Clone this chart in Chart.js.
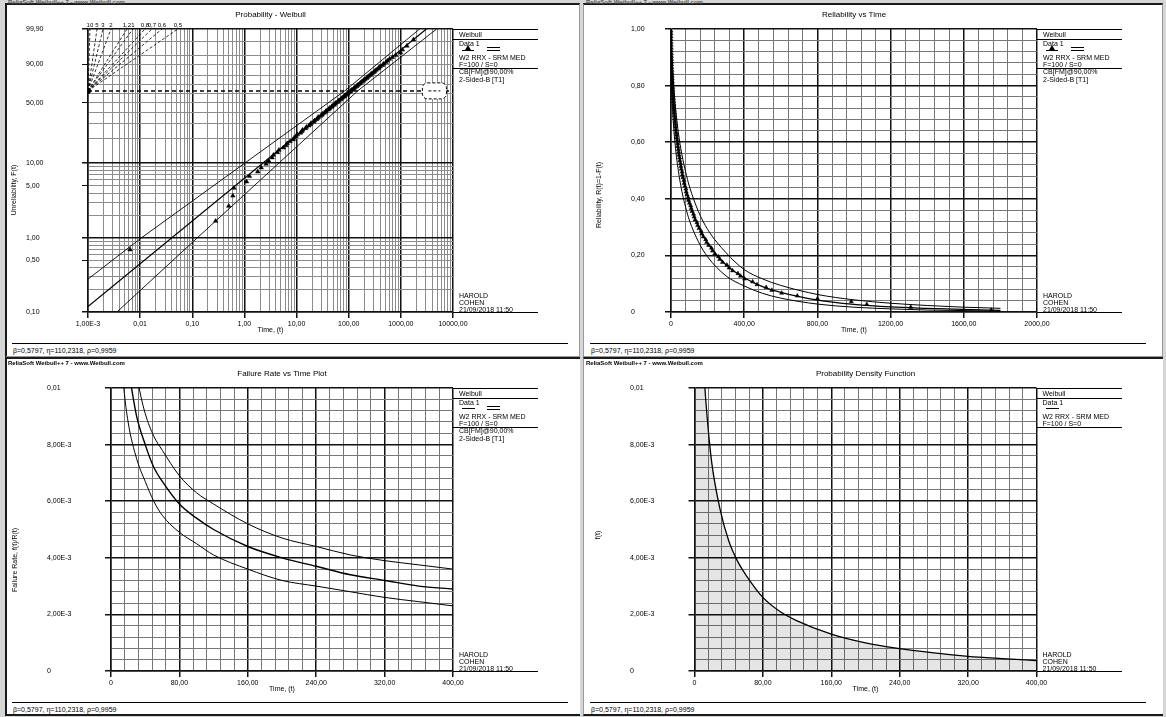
<!DOCTYPE html>
<html>
<head>
<meta charset="utf-8">
<title>Weibull plots</title>
<script src="https://cdn.jsdelivr.net/npm/chart.js@4.4.1/dist/chart.umd.min.js"></script>
<style>
  body { margin: 0; width: 1166px; height: 717px; position: relative; overflow: hidden; background: #d6d6d6; font-family: "Liberation Sans", Arial, sans-serif; color: #000; }
  .frame { position: absolute; background: #fff; box-sizing: border-box; border-top: 2px solid #1a1a1a; }
  canvas { position: absolute; }
  .txt { position: absolute; font-size: 7px; line-height: 7px; white-space: nowrap; color: #000; }
  .rule { position: absolute; height: 0; border-top: 1px solid #000; }
  .ytitle { position: absolute; font-size: 7px; line-height: 7px; white-space: nowrap; transform: translate(-50%, -50%) rotate(-90deg); }
  .head { position: absolute; font-size: 6px; line-height: 6px; font-weight: bold; white-space: nowrap; }
</style>
</head>
<body>
<div class="frame" style="left:5px;top:3px;width:575px;height:354px;border-left:2px solid #1a1a1a;border-right:1px solid #999;border-bottom:1px solid #999"></div>
<div class="frame" style="left:583px;top:3px;width:580px;height:354px;border-left:1px solid #999;border-right:1px solid #999;border-bottom:1px solid #999"></div>
<div class="frame" style="left:5px;top:357px;width:575px;height:359px;border-left:2px solid #1a1a1a;border-bottom:2px solid #1a1a1a"></div>
<div class="frame" style="left:583px;top:357px;width:580px;height:359px;border-left:1px solid #999;border-bottom:2px solid #1a1a1a"></div>

<canvas id="probChart" width="540" height="336" style="left:8px;top:5px"></canvas>
<canvas id="relChart" width="540" height="336" style="left:587px;top:5px"></canvas>
<canvas id="rateChart" width="540" height="340" style="left:8px;top:358px"></canvas>
<canvas id="pdfChart" width="540" height="340" style="left:587px;top:358px"></canvas>

<script>
// ---- probability plot (Weibull paper) ----
var probTickTimes = [0.001, 0.01, 0.1, 1, 10, 100, 1000, 10000];
var probTickTimeLabels = ['1,00E-3', '0,01', '0,10', '1,00', '10,00', '100,00', '1000,00', '10000,00'];
var probTickF = [0.1, 0.5, 1, 5, 10, 50, 90, 99.9];
var probTickFLabels = ['0,10', '0,50', '1,00', '5,00', '10,00', '50,00', '90,00', '99,90'];
var probGridF = [0.1, 0.2, 0.3, 0.4, 0.5, 0.6, 0.7, 0.8, 0.9, 1, 2, 3, 4, 5, 6, 7, 8, 9,
                 10, 20, 30, 40, 50, 60, 70, 80, 90, 95, 99, 99.9];
var probDarkF = [0.1, 1, 10, 99.9];

// failure times and median-rank unreliability (%)
var failTimes = [0.0064, 0.28, 0.50, 0.60, 0.63, 1.1, 1.25, 1.8, 2.1, 2.6,
                 2.9, 3.4, 3.6, 4.3, 4.6, 5.6, 6.3, 6.6, 7.5, 8.6,
                 9.0, 9.8, 10.4, 11.9, 12.6, 13.1, 14.9, 15.5, 17.2, 18.4,
                 19.0, 21.3, 22.0, 24.2, 25.3, 26.1, 28.8, 30.5, 31.4, 34.0,
                 36.2, 37.0, 40.5, 42.0, 43.6, 47.2, 48.5, 52.4, 53.8, 56.1,
                 60.7, 62.2, 65.0, 70.3, 72.1, 75.8, 81.5, 83.0, 87.4, 93.6,
                 95.8, 100.9, 107.2, 110.4, 115.0, 123.1, 126.5, 132.0, 141.8, 146.0,
                 153.2, 164.5, 168.3, 177.0, 189.6, 195.0, 205.8, 221.4, 227.0, 239.5,
                 258.7, 266.0, 281.2, 305.4, 318.0, 336.5, 366.0, 380.2, 402, 446,
                 470, 520, 551, 605, 690, 800, 985, 1070, 1310, 1750];
var failUnrel = [0.7, 1.7, 2.7, 3.7, 4.7, 5.7, 6.7, 7.7, 8.7, 9.7, 10.7, 11.7,
                 12.6, 13.6, 14.6, 15.6, 16.6, 17.6, 18.6, 19.6, 20.6, 21.6, 22.6, 23.6, 24.6,
                 25.6, 26.6, 27.6, 28.6, 29.6, 30.6, 31.6, 32.6, 33.6, 34.6, 35.6, 36.6,
                 37.5, 38.5, 39.5, 40.5, 41.5, 42.5, 43.5, 44.5, 45.5, 46.5, 47.5, 48.5, 49.5,
                 50.5, 51.5, 52.5, 53.5, 54.5, 55.5, 56.5, 57.5, 58.5, 59.5, 60.5, 61.5,
                 62.4, 63.4, 64.4, 65.4, 66.4, 67.4, 68.4, 69.4, 70.4, 71.4, 72.4, 73.4, 74.4,
                 75.4, 76.4, 77.4, 78.4, 79.4, 80.4, 81.4, 82.4, 83.4, 84.4, 85.4, 86.4,
                 87.3, 88.3, 89.3, 90.3, 91.3, 92.3, 93.3, 94.3, 95.3, 96.3, 97.3, 98.3, 99.3];

// fitted line and 90% bounds on the probability paper
var fitTimes = [0.001, 3080];
var fitF = [0.119, 99.9];
var cbUpperTimes = [0.001, 0.0104, 83.8, 2290];
var cbUpperF = [0.279, 1, 63.2, 99.9];
var cbLowerTimes = [0.00359, 0.123, 148.6, 4850];
var cbLowerF = [0.1, 1, 63.2, 99.9];
var etaLevel = 63.2;
var etaBoxTime = 4400;
var betaLabels = ['10', '5', '3', '2', '1,2', '1', '0,8', '0,7', '0,6', '0,5'];
var betaTopTimes = [0.00109, 0.00149, 0.00194, 0.00276, 0.00558, 0.00728, 0.0124, 0.0168, 0.0262, 0.053];

// ---- reliability vs time ----
var relTimes = [0, 1, 5, 10, 20, 40, 60, 80, 100, 150, 200, 300, 400, 500, 600, 800, 1000, 1200, 1400, 1600, 1800];
var relMid   = [1, 0.937, 0.847, 0.780, 0.689, 0.573, 0.495, 0.436, 0.388, 0.302, 0.243, 0.167, 0.121, 0.090, 0.069, 0.042, 0.027, 0.018, 0.013, 0.009, 0.006];
var relUpper = [1, 0.975, 0.905, 0.845, 0.755, 0.635, 0.555, 0.495, 0.445, 0.355, 0.292, 0.210, 0.150, 0.117, 0.094, 0.062, 0.043, 0.031, 0.023, 0.017, 0.013];
var relLower = [1, 0.870, 0.770, 0.700, 0.610, 0.500, 0.425, 0.370, 0.325, 0.248, 0.195, 0.128, 0.092, 0.066, 0.049, 0.028, 0.017, 0.011, 0.007, 0.005, 0.003];
var relTickTimes = [0, 400, 800, 1200, 1600, 2000];
var relTickTimeLabels = ['0', '400,00', '800,00', '1200,00', '1600,00', '2000,00'];
var relTickR = [0, 0.2, 0.4, 0.6, 0.8, 1];
var relTickRLabels = ['0', '0,20', '0,40', '0,60', '0,80', '1,00'];

// ---- failure rate vs time ----
var rateMidTimes = [20, 24, 30, 40, 50, 60, 80, 100, 120, 160, 200, 240, 280, 320, 360, 400];
var rateMid      = [0.0108, 0.0100, 0.0090, 0.0080, 0.0072, 0.0067, 0.0059, 0.0054, 0.0050, 0.0044, 0.0040, 0.0037, 0.0034, 0.0032, 0.0030, 0.0029];
var rateUpTimes  = [30, 33, 40, 50, 60, 80, 100, 120, 160, 200, 240, 280, 320, 360, 400];
var rateUp       = [0.0106, 0.0100, 0.0091, 0.0083, 0.0078, 0.0069, 0.0063, 0.0059, 0.0052, 0.0047, 0.0044, 0.0041, 0.0039, 0.00375, 0.0036];
var rateLowTimes = [14, 15, 20, 30, 40, 50, 60, 80, 100, 120, 160, 200, 240, 280, 320, 360, 400];
var rateLow      = [0.0104, 0.0100, 0.0088, 0.0075, 0.0067, 0.0060, 0.0055, 0.0049, 0.0045, 0.0041, 0.0036, 0.0032, 0.0030, 0.0028, 0.0026, 0.00245, 0.0023];
var rateTickTimes = [0, 80, 160, 240, 320, 400];
var rateTickTimeLabels = ['0', '80,00', '160,00', '240,00', '320,00', '400,00'];
var rateTickVals = [0, 0.002, 0.004, 0.006, 0.008, 0.01];
var rateTickLabels = ['0', '2,00E-3', '4,00E-3', '6,00E-3', '8,00E-3', '0,01'];

// ---- probability density ----
var pdfTimes = [1, 5, 10, 12, 15, 20, 30, 40, 50, 60, 80, 100, 120, 160, 200, 240, 280, 320, 360, 400];
var pdfVals  = [0.0356, 0.0164, 0.0113, 0.0101, 0.0089, 0.0074, 0.0057, 0.0046, 0.0039, 0.0034, 0.0026, 0.0021, 0.00177, 0.0013, 0.00099, 0.00079, 0.00064, 0.00052, 0.00044, 0.00037];

// ---- texts ----
var legendRows = ['Weibull', 'Data 1', 'W2 RRX - SRM MED', 'F=100 / S=0', 'CB[FM]@90,00%', '2-Sided-B [T1]'];
var stampRows = ['HAROLD', 'COHEN', '21/09/2018 11:50'];
var footerText = 'β=0,5797, η=110,2318, ρ=0,9959';
var headerText = 'ReliaSoft Weibull++ 7 - www.Weibull.com';

Chart.defaults.font.family = '"Liberation Sans", Arial, sans-serif';
Chart.defaults.font.size = 7;
Chart.defaults.color = '#000';

// Weibull probability axis: value is unreliability in %, placed on ln(-ln(1-F))
function weib(p) {
    return Math.log(-Math.log(1 - p / 100));
}
class WeibullScale extends Chart.LinearScale {
    determineDataLimits() {
        this.min = this.options.min;
        this.max = this.options.max;
    }
    buildTicks() {
        return [];
    }
    configure() {
        super.configure();
        this._wbStart = weib(this.min);
        this._wbRange = weib(this.max) - this._wbStart;
    }
    getPixelForValue(value) {
        if (value === null || value === undefined) return NaN;
        return this.getPixelForDecimal((weib(value) - this._wbStart) / this._wbRange);
    }
    getValueForPixel(pixel) {
        var w = this._wbStart + this.getDecimalForPixel(pixel) * this._wbRange;
        return 100 * (1 - Math.exp(-Math.exp(w)));
    }
}
WeibullScale.id = 'weibull';
WeibullScale.defaults = {};
Chart.register(WeibullScale);

function steps(max, n) {
    return Array.from({length: n + 1}, function (_, i) { return +(i * max / n).toFixed(6); });
}
function logGrid() {
    var out = [];
    for (var e = -3; e <= 3; e++) {
        for (var k = 1; k <= 9; k++) out.push(parseFloat((k * Math.pow(10, e)).toPrecision(3)));
    }
    out.push(10000);
    return out;
}
function pts(xs, ys) {
    return xs.map(function (x, i) { return {x: x, y: ys[i]}; });
}

function axis(type, min, max, grid, tickVals, tickLabels, dark, minor) {
    return {
        type: type,
        min: min,
        max: max,
        afterBuildTicks: function (s) { s.ticks = grid.map(function (v) { return {value: v}; }); },
        ticks: {
            autoSkip: false,
            maxRotation: 0,
            minRotation: 0,
            padding: 2,
            callback: function (v) {
                var i = tickVals.indexOf(v);
                return i < 0 ? '' : tickLabels[i];
            }
        },
        grid: {
            color: function (c) { return c.tick && dark.indexOf(c.tick.value) >= 0 ? '#111' : minor; },
            lineWidth: function (c) { return c.tick && dark.indexOf(c.tick.value) >= 0 ? 1.5 : 1; },
            tickColor: function (c) { return c.tick && tickVals.indexOf(c.tick.value) >= 0 ? '#111' : 'rgba(0,0,0,0)'; },
            tickLength: 6
        },
        border: {color: '#111', width: 1.5}
    };
}

function line(data, extra) {
    return Object.assign({
        data: data,
        showLine: true,
        pointRadius: 0,
        borderColor: '#000',
        backgroundColor: '#000',
        borderWidth: 1,
        fill: false,
        tension: 0
    }, extra || {});
}

var panels = [
    {id: 'probChart', left: 8, top: 5, w: 540, h: 336, frameX: 5, plot: {l: 88, t: 29, r: 453, b: 312}, labelX: 26,
     titleY: 15, xTitleY: 330, title: 'Probability - Weibull', yTitle: 'Unreliability, F(t)', yTitleX: 13, yTitleY: 190, cb: true, marker: 'tri'},
    {id: 'relChart', left: 587, top: 5, w: 540, h: 336, frameX: 583, plot: {l: 671, t: 29, r: 1037, b: 312}, labelX: 631,
     titleY: 15, xTitleY: 330, title: 'Reliability vs Time', yTitle: 'Reliability, R(t)=1-F(t)', yTitleX: 598, yTitleY: 195, cb: true, marker: 'tri'},
    {id: 'rateChart', left: 8, top: 358, w: 540, h: 340, frameX: 5, plot: {l: 111, t: 388, r: 453, b: 671}, labelX: 47,
     titleY: 374, xTitleY: 689, title: 'Failure Rate vs Time Plot', yTitle: 'Failure Rate, f(t)/R(t)', yTitleX: 14, yTitleY: 560, cb: true, marker: 'line'},
    {id: 'pdfChart', left: 587, top: 358, w: 540, h: 340, frameX: 583, plot: {l: 694.5, t: 388, r: 1036.5, b: 671}, labelX: 630,
     titleY: 374, xTitleY: 689, title: 'Probability Density Function', yTitle: 'f(t)', yTitleX: 597, yTitleY: 535, cb: false, marker: 'line'}
];

function buildOptions(p, xA, yA) {
    xA.title = {display: true, text: 'Time, (t)', padding: 0, font: {size: 7}};
    xA.afterFit = function (s) { s.height = p.xTitleY + 4.2 - p.plot.b; };
    yA.ticks.crossAlign = 'far';
    yA.afterFit = function (s) { s.width = p.plot.l - p.labelX; };
    return {
        responsive: false,
        animation: false,
        layout: {
            padding: {
                left: p.labelX - p.left,
                right: p.left + p.w - p.plot.r,
                top: p.titleY - p.top - 4.8,
                bottom: p.top + p.h - p.xTitleY - 4.2
            }
        },
        plugins: {
            legend: {display: false},
            tooltip: {enabled: false},
            title: {
                display: true,
                text: p.title,
                fullSize: false,
                color: '#000',
                font: {size: 8, weight: 'normal'},
                padding: {top: 0, bottom: p.plot.t - p.titleY - 4.8}
            }
        },
        scales: {x: xA, y: yA}
    };
}

// beta scale labels and eta marker on the probability paper
var probExtras = {
    id: 'probExtras',
    afterDatasetsDraw: function (chart) {
        var ctx = chart.ctx, x = chart.scales.x, y = chart.scales.y;
        ctx.save();
        ctx.font = '6px "Liberation Sans", Arial, sans-serif';
        ctx.fillStyle = '#000';
        ctx.textAlign = 'center';
        ctx.textBaseline = 'bottom';
        betaTopTimes.forEach(function (t, i) {
            ctx.fillText(betaLabels[i], x.getPixelForValue(t), y.top - 1);
        });
        var ex = x.getPixelForValue(etaBoxTime), ey = y.getPixelForValue(etaLevel);
        ctx.fillStyle = '#fff';
        ctx.strokeStyle = '#000';
        ctx.lineWidth = 1;
        ctx.setLineDash([3, 2]);
        ctx.beginPath();
        ctx.roundRect(ex - 12, ey - 8, 24, 16, 5);
        ctx.fill();
        ctx.stroke();
        ctx.beginPath();
        ctx.moveTo(ex - 6, ey);
        ctx.lineTo(ex + 6, ey);
        ctx.stroke();
        ctx.restore();
    }
};

// 1) Probability - Weibull
(function () {
    var p = panels[0];
    var ds = betaTopTimes.map(function (t) {
        return line([{x: 0.001, y: etaLevel}, {x: t, y: 99.9}], {borderDash: [3, 2], borderWidth: 0.8});
    });
    ds.push(line(pts([0.001, 10000], [etaLevel, etaLevel]), {borderDash: [4, 3], borderWidth: 1.5}));
    ds.push(line(pts(cbUpperTimes, cbUpperF), {borderWidth: 0.9}));
    ds.push(line(pts(cbLowerTimes, cbLowerF), {borderWidth: 0.9}));
    ds.push(line(pts(fitTimes, fitF), {borderWidth: 1.2}));
    ds.push({data: pts(failTimes, failUnrel), showLine: false, pointStyle: 'triangle', pointRadius: 2.6,
             backgroundColor: '#000', borderColor: '#000', borderWidth: 0.5});
    ds.push({data: [{x: 0.001, y: etaLevel}], showLine: false, pointRadius: 2.6, backgroundColor: '#000', borderColor: '#000'});
    var xA = axis('logarithmic', 0.001, 10000, logGrid(), probTickTimes, probTickTimeLabels, probTickTimes, '#8c8c8c');
    var yA = axis('weibull', 0.1, 99.9, probGridF, probTickF, probTickFLabels, probDarkF, '#8c8c8c');
    new Chart(document.getElementById(p.id), {
        type: 'scatter',
        data: {datasets: ds},
        options: buildOptions(p, xA, yA),
        plugins: [probExtras]
    });
})();

// 2) Reliability vs Time
(function () {
    var p = panels[1];
    var curve = {cubicInterpolationMode: 'monotone'};
    var ds = [
        line(pts(relTimes, relUpper), curve),
        line(pts(relTimes, relLower), curve),
        line(pts(relTimes, relMid), Object.assign({borderWidth: 1.3}, curve)),
        {data: pts(failTimes, failUnrel.map(function (f) { return 1 - f / 100; })), showLine: false,
         pointStyle: 'triangle', pointRadius: 2.4, backgroundColor: '#000', borderColor: '#000', borderWidth: 0.5}
    ];
    var xA = axis('linear', 0, 2000, steps(2000, 25), relTickTimes, relTickTimeLabels, relTickTimes, '#777');
    var yA = axis('linear', 0, 1, steps(1, 25), relTickR, relTickRLabels, relTickR, '#777');
    new Chart(document.getElementById(p.id), {
        type: 'scatter',
        data: {datasets: ds},
        options: buildOptions(p, xA, yA)
    });
})();

// 3) Failure Rate vs Time
(function () {
    var p = panels[2];
    var curve = {cubicInterpolationMode: 'monotone'};
    var ds = [
        line(pts(rateUpTimes, rateUp), curve),
        line(pts(rateLowTimes, rateLow), curve),
        line(pts(rateMidTimes, rateMid), Object.assign({borderWidth: 1.4}, curve))
    ];
    var xA = axis('linear', 0, 400, steps(400, 25), rateTickTimes, rateTickTimeLabels, rateTickTimes, '#777');
    var yA = axis('linear', 0, 0.01, steps(0.01, 25), rateTickVals, rateTickLabels, rateTickVals, '#777');
    new Chart(document.getElementById(p.id), {
        type: 'scatter',
        data: {datasets: ds},
        options: buildOptions(p, xA, yA)
    });
})();

// 4) Probability Density Function
(function () {
    var p = panels[3];
    var ds = [
        line(pts(pdfTimes, pdfVals), {cubicInterpolationMode: 'monotone', borderWidth: 1.3,
             fill: 'origin', backgroundColor: 'rgba(0,0,0,0.1)'})
    ];
    var xA = axis('linear', 0, 400, steps(400, 25), rateTickTimes, rateTickTimeLabels, rateTickTimes, '#777');
    var yA = axis('linear', 0, 0.01, steps(0.01, 25), rateTickVals, rateTickLabels, rateTickVals, '#777');
    new Chart(document.getElementById(p.id), {
        type: 'scatter',
        data: {datasets: ds},
        options: buildOptions(p, xA, yA)
    });
})();

// ---- static text around the plots ----
function addEl(cls, x, y, text, style) {
    var d = document.createElement('div');
    d.className = cls;
    d.style.left = x + 'px';
    d.style.top = y + 'px';
    if (text) d.textContent = text;
    if (style) Object.assign(d.style, style);
    document.body.appendChild(d);
    return d;
}
function rule(x1, x2, y) {
    return addEl('rule', x1, y, '', {width: (x2 - x1) + 'px'});
}

panels.forEach(function (p) {
    var r = p.plot.r, t = p.plot.t, b = p.plot.b, legR = r + 85;
    rule(r, legR, t);
    rule(r, legR, t + 10);
    rule(r, legR, t + 39);
    rule(r, legR, b);
    var rowY = [5, 14, 28, 35, 42, 50];
    var rows = p.cb ? legendRows : legendRows.slice(0, 4);
    rows.forEach(function (s, i) { addEl('txt', r + 6, t + rowY[i] - 3.5, s); });
    if (p.marker === 'tri') {
        addEl('txt', r + 12, t + 16, '', {width: 0, height: 0, borderLeft: '3px solid transparent',
              borderRight: '3px solid transparent', borderBottom: '5px solid #000'});
        rule(r + 9, r + 21, t + 21);
    } else {
        rule(r + 9, r + 22, t + 20);
    }
    if (p.cb) {
        rule(r + 34, r + 47, t + 18);
        rule(r + 34, r + 47, t + 21);
    }
    stampRows.forEach(function (s, i) { addEl('txt', r + 6, b - 17 + 7 * i - 3.5, s); });
    rule(p.frameX + 7, p.frameX + 563, b + 31);
    addEl('txt', p.frameX + 8, b + 38 - 3.5, footerText);
    addEl('ytitle', p.yTitleX, p.yTitleY, p.yTitle);
    addEl('head', p.frameX + 3, p.top < 100 ? -1 : 360, headerText, {color: p.top < 100 ? '#555' : '#000'});
});
</script>
</body>
</html>
